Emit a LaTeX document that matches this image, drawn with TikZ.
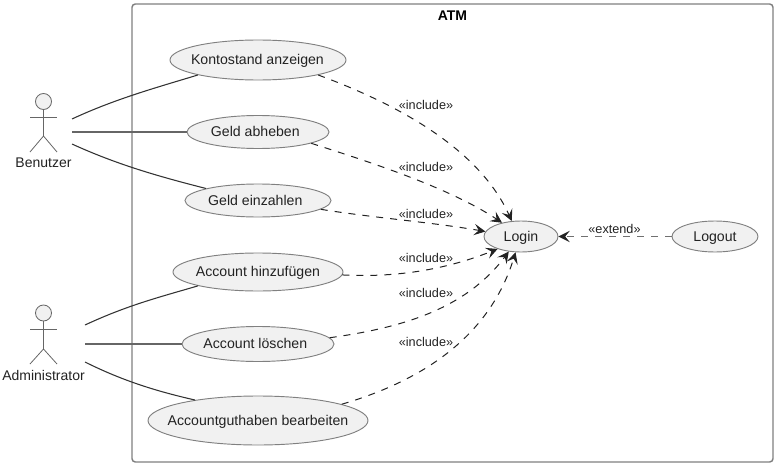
\documentclass[tikz,border=0pt]{standalone}
\usepackage{fontspec}
\setmainfont{Liberation Sans}
\usetikzlibrary{arrows.meta,shapes.geometric}
\newcommand{\uctxt}[2][0pt]{\makebox[0pt]{\hspace*{#1}\raisebox{-3.5pt}[0pt][0pt]{#2}}}
\tikzset{
  uc/.style n args={2}{ellipse,draw=ucline,fill=ucfill,line width=0.7pt,inner sep=0pt,minimum width=#1*0.75pt,minimum height=#2*0.75pt,font=\fontsize{10.6pt}{12pt}\selectfont,text=depcol},
  assoc/.style={draw=assoccol,line width=0.8pt},
  assocs/.style={draw=straightcol,line width=1.05pt},
  dep/.style={draw=depcol,line width=0.75pt,dash pattern=on 5.25pt off 5.25pt,-{Stealth[length=8.5pt,width=8.5pt,inset=3.5pt,color=depcol]}},
  ext/.style={draw=extcol,line width=1.1pt,dash pattern=on 5.25pt off 5.25pt,-{Stealth[length=8.5pt,width=8.5pt,inset=3.5pt,color=depcol]}},
  lbl/.style={font=\fontsize{9.5pt}{11pt}\selectfont,text=depcol,inner sep=0pt},
  actorline/.style={draw=actorcol,line width=0.6pt},
  actorhead/.style={circle,draw=actorcol,fill=ucfill,line width=0.6pt,minimum size=12pt,inner sep=0pt},
  actorlbl/.style={font=\fontsize{10.5pt}{12pt}\selectfont,inner sep=0pt,text=depcol},
}
\definecolor{ucline}{HTML}{808080}
\definecolor{ucfill}{HTML}{F1F1F1}
\definecolor{assoccol}{HTML}{333333}
\definecolor{straightcol}{HTML}{666666}
\definecolor{actorcol}{HTML}{666666}
\definecolor{extcol}{HTML}{707070}
\definecolor{depcol}{HTML}{222222}
\definecolor{framecol}{HTML}{7F7F7F}
\begin{document}
\begin{tikzpicture}[x=0.75pt,y=-0.75pt]
\useasboundingbox (0,0) rectangle (775,464);
\draw[draw=framecol,line width=1.1pt,rounded corners=2.5pt] (132,4) rectangle (773,462);
\node[font=\bfseries\fontsize{10.5pt}{12pt}\selectfont,inner sep=0pt] (atm) at (452.5,16) {ATM};

\node[uc={176}{40}] (k) at (258,60) {\uctxt[-0.8pt]{Kontostand anzeigen}};
\node[uc={142}{33}] (abh) at (258,132) {\uctxt[-4pt]{Geld abheben}};
\node[uc={146}{33}] (ein) at (258,200.5) {\uctxt[-4pt]{Geld einzahlen}};
\node[uc={170}{38}] (hin) at (258,272) {\uctxt{Account hinzufügen}};
\node[uc={152}{35}] (los) at (258,344) {\uctxt[-4pt]{Account löschen}};
\node[uc={220}{49}] (gut) at (258,420.5) {\uctxt{Accountguthaben bearbeiten}};
\node[uc={74}{31}] (login) at (521,236.5) {\uctxt{Login}};
\node[uc={86}{31}] (logout) at (715,236.5) {\uctxt{Logout}};

% actors
\node[actorhead] (h1) at (43.5,101.5) {};
\coordinate (b1) at (43.5,136);
\draw[actorline] (h1.south) -- (b1);
\draw[actorline] (30,117) -- (57,117);
\draw[actorline] (30,152) -- (b1) -- (57,152);
\node[actorlbl] (benutzer) at (43.5,163) {Benutzer};
\node[actorhead] (h2) at (43.5,313) {};
\coordinate (b2) at (43.5,349);
\draw[actorline] (h2.south) -- (b2);
\draw[actorline] (30,329) -- (57,329);
\draw[actorline] (30,364) -- (b2) -- (57,364);
\node[actorlbl] (admin) at (43.5,375) {Administrator};

\coordinate (a1a) at (72,119);
\coordinate (a1b) at (72,132);
\coordinate (a1c) at (72,144);
\coordinate (a2a) at (85,325);
\coordinate (a2b) at (85,344);
\coordinate (a2c) at (85,362);

\draw[assoc] (a1a) .. controls (115,99) and (155,88) .. (k.194.5);
\draw[assocs] (a1b) -- (abh.west);
\draw[assoc] (a1c) .. controls (120,166) and (165,178) .. (ein.167.5);
\draw[assoc] (a2a) .. controls (128,305) and (160,297) .. (hin.193.6);
\draw[assocs] (a2b) -- (los.west);
\draw[assoc] (a2c) .. controls (125,382) and (160,392) .. (gut.162.7);

\draw[dep] (k.-14.5) .. controls (400,105) and (480,150) .. (login.121.8);
\draw[dep] (abh.-12.7) .. controls (370,162) and (450,188) .. (login.144.6);
\draw[dep] (ein.-8.7) .. controls (375,218) and (430,222) .. (login.172.5);
\draw[dep] (hin.-2.8) .. controls (400,278) and (450,268) .. (login.208.5);
\draw[dep] (los.5.6) .. controls (400,328) and (465,310) .. (login.231);
\draw[dep] (gut.11.8) .. controls (425,380) and (490,335) .. (login.251);
\draw[ext] (logout.west) -- (login.east);

\node[lbl] (l1) at (426,105) {«include»};
\node[lbl] (l2) at (426,167) {«include»};
\node[lbl] (l3) at (426,214) {«include»};
\node[lbl] (l4) at (426,258) {«include»};
\node[lbl] (l5) at (426,293) {«include»};
\node[lbl] (l6) at (426,342) {«include»};
\node[lbl] (l7) at (614.5,229) {«extend»};
\end{tikzpicture}
\end{document}
